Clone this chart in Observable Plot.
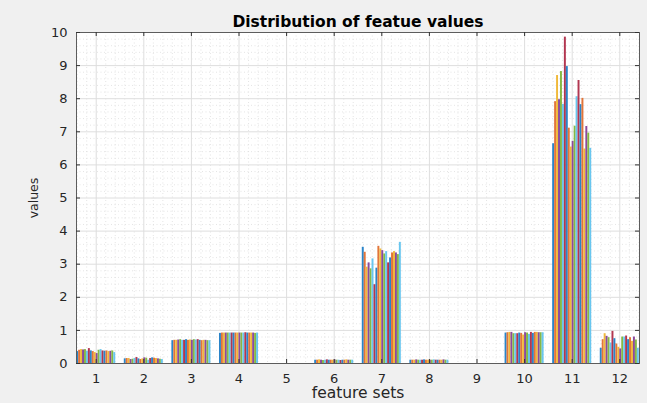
<!DOCTYPE html>
<html>
<head>
<meta charset="utf-8">
<script src="https://cdn.jsdelivr.net/npm/d3@7"></script>
<script src="https://cdn.jsdelivr.net/npm/@observablehq/plot@0.6"></script>
<style>
  html, body { margin: 0; padding: 0; background: #f0f0f0; }
</style>
</head>
<body>
<div id="chart"></div>
<script>
// Feature sets (x categories) and y ticks
const featureSets = [1, 2, 3, 4, 5, 6, 7, 8, 9, 10, 11, 12];
const yTickValues = [0, 1, 2, 3, 4, 5, 6, 7, 8, 9, 10];

// 20 bars per feature set
const set1  = [0.36, 0.40, 0.42, 0.41, 0.42, 0.37, 0.45, 0.38, 0.36, 0.33, 0.30, 0.40, 0.42, 0.38, 0.37, 0.38, 0.36, 0.37, 0.38, 0.33];
const set2  = [0.14, 0.15, 0.15, 0.12, 0.13, 0.15, 0.18, 0.14, 0.12, 0.14, 0.17, 0.16, 0.10, 0.15, 0.17, 0.16, 0.15, 0.14, 0.13, 0.12];
const set3  = [0.69, 0.70, 0.70, 0.71, 0.72, 0.70, 0.70, 0.72, 0.70, 0.71, 0.70, 0.72, 0.71, 0.72, 0.70, 0.69, 0.70, 0.70, 0.69, 0.69];
const set4  = [0.91, 0.92, 0.92, 0.92, 0.92, 0.92, 0.92, 0.92, 0.92, 0.92, 0.92, 0.92, 0.92, 0.93, 0.92, 0.92, 0.92, 0.92, 0.91, 0.92];
const set5  = [0, 0, 0, 0, 0, 0, 0, 0, 0, 0, 0, 0, 0, 0, 0, 0, 0, 0, 0, 0];
const set6  = [0.10, 0.10, 0.11, 0.10, 0.09, 0.10, 0.11, 0.10, 0.10, 0.10, 0.11, 0.10, 0.10, 0.09, 0.10, 0.10, 0.11, 0.10, 0.10, 0.10];
const set7  = [3.51, 3.36, 2.91, 3.04, 2.86, 3.16, 2.38, 2.88, 3.54, 3.46, 3.41, 3.31, 3.38, 3.04, 3.19, 3.34, 3.38, 3.34, 3.29, 3.66];
const set8  = [0.10, 0.10, 0.10, 0.11, 0.10, 0.10, 0.10, 0.11, 0.10, 0.10, 0.10, 0.10, 0.11, 0.10, 0.10, 0.10, 0.10, 0.11, 0.10, 0.10];
const set9  = [0, 0, 0, 0, 0, 0, 0, 0, 0, 0, 0, 0, 0, 0, 0, 0, 0, 0, 0, 0];
const set10 = [0.92, 0.93, 0.94, 0.94, 0.90, 0.90, 0.90, 0.92, 0.91, 0.86, 0.93, 0.92, 0.88, 0.94, 0.91, 0.94, 0.94, 0.93, 0.93, 0.93];
const set11 = [6.64, 7.91, 8.70, 7.97, 8.82, 7.83, 9.86, 8.97, 7.11, 6.54, 6.71, 7.17, 8.06, 8.55, 7.82, 8.01, 6.48, 7.16, 6.96, 6.50];
const set12 = [0.46, 0.72, 0.90, 0.82, 0.78, 0.62, 0.97, 0.75, 0.59, 0.49, 0.44, 0.80, 0.80, 0.83, 0.72, 0.78, 0.67, 0.80, 0.71, 0.46];

const allSets = [set1, set2, set3, set4, set5, set6, set7, set8, set9, set10, set11, set12];

// MATLAB default color order (slightly lightened to match the rendered look)
const seriesColors = ["#2a84c9", "#e2753a", "#f0b93a", "#8c4a9c", "#86b845", "#68c6ef", "#b23650"];

const nBars = 20;
const groupWidth = 0.82;
const barWidth = groupWidth / nBars;

const rows = [];
allSets.forEach((vals, gi) => {
  vals.forEach((v, si) => rows.push({group: featureSets[gi], series: si, value: v}));
});

// grid positions
const minorX = d3.range(3, 63).map(k => k / 5).filter(v => Math.abs(v - Math.round(v)) > 1e-9);
const minorY = d3.range(1, 50).map(k => k / 5).filter(v => Math.abs(v - Math.round(v)) > 1e-9);

const W = 647, H = 403;
const mL = 76, mR = 8, mT = 32, mB = 40;
const frameW = W - mL - mR, frameH = H - mT - mB;
const tickLen = 4;

const chart = Plot.plot({
  width: W,
  height: H,
  marginLeft: mL,
  marginRight: mR,
  marginTop: mT,
  marginBottom: mB,
  style: {background: "#f0f0f0", fontFamily: "DejaVu Sans", fontSize: "13px", color: "#262626"},
  x: {type: "linear", domain: [0.586, 12.414]},
  y: {domain: [0, 10]},
  color: {type: "ordinal", domain: d3.range(nBars), range: seriesColors},
  marks: [
    Plot.frame({fill: "white", stroke: "none"}),
    Plot.ruleY(minorY, {y: d => d, stroke: "#dadada", strokeDasharray: "1,2.5", strokeWidth: 0.7}),
    Plot.ruleX(minorX, {x: d => d, stroke: "#dadada", strokeDasharray: "1,2.5", strokeWidth: 0.7}),
    Plot.ruleY(yTickValues, {y: d => d, stroke: "#dedede"}),
    Plot.ruleX(featureSets, {x: d => d, stroke: "#dedede"}),
    Plot.rect(rows, {
      x1: d => d.group - groupWidth / 2 + d.series * barWidth,
      x2: d => d.group - groupWidth / 2 + (d.series + 1) * barWidth,
      y1: 0,
      y2: "value",
      fill: "series"
    }),
    Plot.frame({stroke: "#5c5c5c"}),
    Plot.tickX(featureSets, {x: d => d, insetTop: frameH - tickLen, stroke: "#333"}),
    Plot.tickX(featureSets, {x: d => d, insetBottom: frameH - tickLen, stroke: "#333"}),
    Plot.tickY(yTickValues, {y: d => d, insetRight: frameW - tickLen, stroke: "#333"}),
    Plot.tickY(yTickValues, {y: d => d, insetLeft: frameW - tickLen, stroke: "#333"}),
    Plot.axisX({ticks: featureSets, tickSize: 0, tickPadding: 10, label: null, fontSize: 13, fill: "#262626"}),
    Plot.axisY({ticks: yTickValues, tickSize: 0, tickPadding: 9, label: null, fontSize: 13, fill: "#262626"}),
    Plot.text(["Distribution of featue values"], {text: d => d, frameAnchor: "top", lineAnchor: "middle", textAnchor: "middle", dy: -10.5, fontWeight: "bold", fontSize: 15.5, fill: "#000"}),
    Plot.text(["feature sets"], {text: d => d, frameAnchor: "bottom", lineAnchor: "middle", textAnchor: "middle", dy: 30, fontSize: 15.5, fill: "#262626"}),
    Plot.text(["values"], {text: d => d, frameAnchor: "left", lineAnchor: "middle", textAnchor: "middle", dx: -42.7, rotate: -90, fontSize: 12.5, fill: "#262626"})
  ]
});

document.getElementById("chart").appendChild(chart);
</script>
</body>
</html>
